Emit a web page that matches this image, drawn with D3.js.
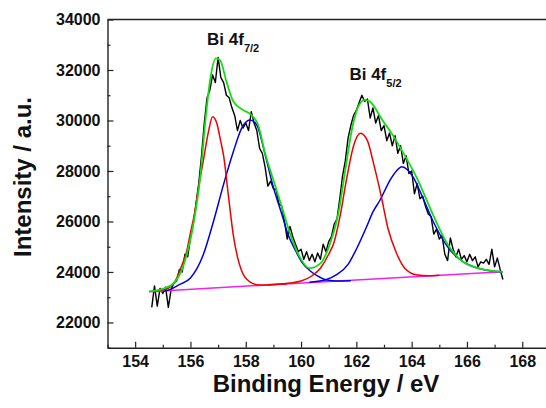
<!DOCTYPE html>
<html><head><meta charset="utf-8">
<script src="https://cdn.jsdelivr.net/npm/d3@7"></script>
<style>
html,body{margin:0;padding:0;background:#fff;}
svg{display:block;font-family:"Liberation Sans",Arial,sans-serif;font-weight:bold;}
</style></head>
<body><svg id="chart" width="546" height="408"></svg>
<script>
// ---- data (binding energy eV, intensity a.u.) ----
const xTicks = [154,156,158,160,162,164,166,168];
const yTicks = [22000,24000,26000,28000,30000,32000,34000];
const xDomain = [153,169];
const yDomain = [21000,34000];

const measured = [
[154.6,22600],[154.7,23450],[154.8,22650],[154.9,23350],[155.0,23150],[155.1,23400],[155.2,22600],[155.3,23300],
[155.4,23550],[155.5,23650],[155.6,24100],[155.7,24000],[155.8,24700],[155.9,24600],[156.0,25350],[156.1,25900],
[156.2,26700],[156.3,27500],[156.4,28600],[156.5,29900],[156.6,30900],[156.7,31200],[156.8,31800],[156.9,31500],
[157.0,32500],[157.1,31700],[157.2,31500],[157.3,31000],[157.4,30900],[157.5,30500],[157.6,30200],[157.7,29600],
[157.8,30000],[157.9,29700],[158.0,29900],[158.1,29600],[158.2,30350],[158.3,29900],[158.4,29600],[158.5,28900],
[158.6,28700],[158.7,28150],[158.8,27400],[158.9,27600],[159.0,27300],[159.1,27250],[159.2,26700],[159.3,26600],
[159.4,26000],[159.5,25300],[159.6,25800],[159.7,25400],[159.8,25100],[159.9,24800],[160.0,24900],[160.1,24500],
[160.2,24800],[160.3,24450],[160.4,24700],[160.5,24400],[160.6,24750],[160.7,24500],[160.8,25100],[160.9,24800],
[161.0,25200],[161.1,25400],[161.2,25900],[161.3,26100],[161.4,26900],[161.5,27800],[161.6,28400],[161.7,29300],
[161.8,29800],[161.9,30200],[162.0,30400],[162.1,30700],[162.2,31000],[162.3,30750],[162.4,30850],[162.5,30100],
[162.6,30500],[162.7,29900],[162.8,30200],[162.9,29600],[163.0,29800],[163.1,29200],[163.2,29500],[163.3,29000],
[163.4,29400],[163.5,28700],[163.6,29000],[163.7,28300],[163.8,28600],[163.9,27900],[164.0,28000],[164.1,27100],
[164.2,27500],[164.3,26900],[164.4,27000],[164.5,26600],[164.6,26300],[164.7,26200],[164.8,25500],[164.9,25700],
[165.0,25300],[165.1,25450],[165.2,24700],[165.3,24450],[165.4,25350],[165.5,24900],[165.6,24600],[165.7,24900],
[165.8,24500],[165.9,24650],[166.0,24400],[166.1,24700],[166.2,24450],[166.3,24600],[166.4,24200],[166.5,24400],
[166.6,24350],[166.7,24500],[166.8,24300],[166.9,24900],[167.0,24200],[167.1,24550],[167.2,24100],[167.3,23700]
];

const baseline = [[154.5,23220],[167.3,24010]];

const fitSum = [
[154.5,23230],[155.0,23330],[155.4,23560],[155.75,24270],[156.1,25860],[156.35,27710],[156.55,30100],[156.72,31670],
[156.92,32460],[157.07,32390],[157.3,31550],[157.55,30750],[157.9,30420],[158.2,30220],[158.45,29820],[158.7,28700],
[159.0,27640],[159.3,26590],[159.6,25530],[159.95,24600],[160.3,24150],[160.7,24340],[161.05,25130],[161.35,26320],
[161.6,28040],[161.85,29700],[162.05,30500],[162.3,30820],[162.5,30740],[162.95,30000],[163.3,29450],[163.6,28900],
[164.2,27700],[164.8,26200],[165.3,25100],[165.8,24450],[166.4,24150],[166.9,24040],[167.3,24000]
];

const peak1a = [ // Bi 4f7/2, red
[154.6,23230],[155.0,23290],[155.3,23430],[155.5,23750],[155.7,24300],[155.86,24800],[156.0,25550],[156.16,26390],
[156.3,27400],[156.46,28370],[156.65,29550],[156.8,30150],[156.95,29900],[157.1,29150],[157.2,28600],[157.37,27050],
[157.55,25460],[157.7,24600],[157.85,24050],[158.15,23610],[158.5,23480],[159.0,23500],[159.5,23530]
];
const peak1b = [ // Bi 4f7/2, blue
[155.0,23230],[155.3,23320],[155.6,23500],[156.0,23760],[156.46,24670],[156.83,25990],[157.19,27440],[157.55,28760],
[157.85,29690],[158.15,30020],[158.4,29820],[158.7,28650],[159.0,27350],[159.3,26300],[159.54,25450],[159.8,24850],
[160.02,24400],[160.38,24000],[160.7,23780],[160.93,23680],[161.3,23640],[161.8,23650]
];
const peak2a = [ // Bi 4f5/2, red
[158.8,23490],[159.6,23560],[160.0,23640],[160.4,23850],[160.7,24150],[161.0,24700],[161.2,25200],[161.4,26150],
[161.65,27700],[161.9,29000],[162.15,29490],[162.4,29200],[162.6,28400],[162.9,27000],[163.15,25700],[163.45,24750],
[163.75,24150],[164.2,23880],[164.6,23850],[165.0,23870]
];
const peak2b = [ // Bi 4f5/2, blue
[160.3,23590],[160.6,23630],[160.87,23680],[161.3,23900],[161.7,24300],[162.0,24900],[162.37,25790],
[162.6,26380],[162.86,26850],[163.22,27640],[163.45,28000],[163.64,28170],[163.85,28050],[164.06,27750],[164.4,26950],
[164.8,25950],[165.3,25000],[165.8,24450],[166.4,24150],[166.9,24040],[167.3,24010]
];

const peakLabels = [
  {main:"Bi 4f", sub:"7/2", e:156.6, v:32990},
  {main:"Bi 4f", sub:"5/2", e:161.75, v:31600}
];

// ---- drawing ----
const svg = d3.select("#chart");
const x = d3.scaleLinear().domain(xDomain).range([107.5, 549.9]);
const y = d3.scaleLinear().domain(yDomain).range([347.7, 19.5]);

// frame (top line; right side lies beyond the crop)
svg.append("line").attr("x1", x(xDomain[0])).attr("x2", x(xDomain[1]))
  .attr("y1", y(yDomain[1])).attr("y2", y(yDomain[1]))
  .attr("stroke","#222").attr("stroke-width",1.4);

// minor ticks
const xMinor = d3.range(xDomain[0], xDomain[1]+0.01, 1).filter(v => !xTicks.includes(v));
const yMinor = d3.range(yDomain[0], yDomain[1]+1, 1000).filter(v => !yTicks.includes(v));

const gx = svg.append("g").attr("transform", `translate(0,${y(yDomain[0])})`);
gx.call(d3.axisBottom(x).tickValues(xTicks).tickSizeInner(-6).tickSizeOuter(0).tickPadding(8).tickFormat(d3.format("d")));
gx.append("g").call(d3.axisBottom(x).tickValues(xMinor).tickSizeInner(-3).tickSizeOuter(0).tickFormat(""))
  .select(".domain").remove();
const gy = svg.append("g").attr("transform", `translate(${x(xDomain[0])},0)`);
gy.call(d3.axisLeft(y).tickValues(yTicks).tickSizeInner(-6).tickSizeOuter(0).tickPadding(7).tickFormat(d3.format("d")));
gy.append("g").call(d3.axisLeft(y).tickValues(yMinor).tickSizeInner(-3).tickSizeOuter(0).tickFormat(""))
  .select(".domain").remove();
svg.selectAll(".domain").attr("stroke","#222").attr("stroke-width",1.4);
svg.selectAll(".tick line").attr("stroke","#222").attr("stroke-width",1.2);
svg.selectAll(".tick text").attr("font-family","'Liberation Sans',Arial,sans-serif")
  .attr("font-weight","bold").attr("font-size",16).attr("fill","#111");

// axis titles
svg.append("text").attr("x", 326).attr("y", 392).attr("text-anchor","middle")
  .attr("font-size",24).attr("fill","#111").text("Binding Energy / eV");
svg.append("text").attr("transform","translate(31,177) rotate(-90)").attr("text-anchor","middle")
  .attr("font-size",24).attr("fill","#111").text("Intensity / a.u.");

// curves
const smooth = d3.line().x(d => x(d[0])).y(d => y(d[1])).curve(d3.curveMonotoneX);
const raw = d3.line().x(d => x(d[0])).y(d => y(d[1]));

svg.append("path").attr("d", raw(measured)).attr("fill","none").attr("stroke","#000").attr("stroke-width",1.4).attr("stroke-linejoin","round");
svg.append("path").attr("d", raw(baseline)).attr("fill","none").attr("stroke","#ee22ee").attr("stroke-width",1.5);
[[peak1b,"#0000dd"],[peak2b,"#0000dd"],[peak1a,"#ee0000"],[peak2a,"#ee0000"]].forEach(([d,c]) => {
  svg.append("path").attr("d", smooth(d)).attr("fill","none").attr("stroke",c).attr("stroke-width",1.5);
});
svg.append("path").attr("d", smooth(fitSum)).attr("fill","none").attr("stroke","#11dd11").attr("stroke-width",1.8);

// peak labels
peakLabels.forEach(p => {
  const t = svg.append("text").attr("x", x(p.e)).attr("y", y(p.v)).attr("font-size",17).attr("fill","#111");
  t.append("tspan").text(p.main);
  t.append("tspan").attr("dy",7).attr("font-size",11).text(p.sub);
});
</script></body></html>
